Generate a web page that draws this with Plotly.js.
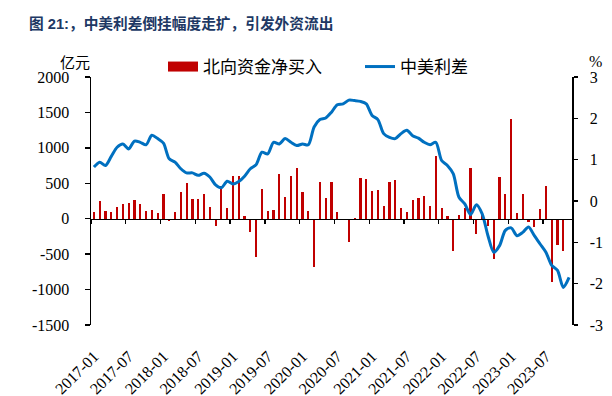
<!DOCTYPE html>
<html>
<head>
<meta charset="utf-8">
<script src="https://cdn.plot.ly/plotly-3.0.1.min.js"></script>
<style>html,body{margin:0;padding:0;background:#fff;}#chart{width:612px;height:396px;}</style>
</head>
<body>
<div id="chart"></div>
<script>
// Monthly categories 2017-01 .. 2023-11
const months = [
"2017-01","2017-02","2017-03","2017-04","2017-05","2017-06","2017-07","2017-08","2017-09","2017-10","2017-11","2017-12",
"2018-01","2018-02","2018-03","2018-04","2018-05","2018-06","2018-07","2018-08","2018-09","2018-10","2018-11","2018-12",
"2019-01","2019-02","2019-03","2019-04","2019-05","2019-06","2019-07","2019-08","2019-09","2019-10","2019-11","2019-12",
"2020-01","2020-02","2020-03","2020-04","2020-05","2020-06","2020-07","2020-08","2020-09","2020-10","2020-11","2020-12",
"2021-01","2021-02","2021-03","2021-04","2021-05","2021-06","2021-07","2021-08","2021-09","2021-10","2021-11","2021-12",
"2022-01","2022-02","2022-03","2022-04","2022-05","2022-06","2022-07","2022-08","2022-09","2022-10","2022-11","2022-12",
"2023-01","2023-02","2023-03","2023-04","2023-05","2023-06","2023-07","2023-08","2023-09","2023-10","2023-11"
];

// 北向资金净买入 (亿元)
const northbound = [
 90, 250, 104, 94, 170, 212, 221, 264, 202, 108, 122, 80,
 344, -28, 90, 377, 504, 278, 278, 348, 170, -108, 466, 150,
 598, 598, 38, -184, -541, 419, 113, 122, 636, 311, 598, 720,
 377, 108, -683, 523, 297, 518, 99, -24, -330, 5, 570, 560,
 391, 405, 179, 518, 546, 146, 99, 264, 297, 325, 179, 880,
 155, 33, -452, 56, 155, 720, -212, 90, -104, -565, 593, 344,
 1403, 85, 344, -52, -122, 132, 466, -899, -377, -452, -20
];

// 中美利差 (%)
const spread = [
 0.82, 0.94, 0.86, 1.08, 1.30, 1.38, 1.26, 1.45, 1.42, 1.36, 1.59, 1.51,
 1.40, 1.02, 0.94, 0.78, 0.68, 0.68, 0.62, 0.67, 0.58, 0.39, 0.32, 0.48,
 0.41, 0.47, 0.60, 0.78, 0.88, 1.18, 1.14, 1.42, 1.38, 1.51, 1.42, 1.34,
 1.38, 1.36, 1.79, 1.97, 2.01, 2.15, 2.33, 2.35, 2.44, 2.43, 2.41, 2.35,
 2.07, 1.97, 1.63, 1.54, 1.51, 1.63, 1.71, 1.58, 1.52, 1.42, 1.36, 1.42,
 0.98, 0.86, 0.66, 0.09, -0.07, -0.33, -0.09, -0.31, -0.84, -1.24, -1.08, -0.71,
 -0.65, -0.84, -0.76, -0.63, -0.84, -1.04, -1.24, -1.56, -1.68, -2.09, -1.85
];

// Tick labels on the category axis (every 6 months)
const tickLabels = ["2017-01","2017-07","2018-01","2018-07","2019-01","2019-07","2020-01",
                    "2020-07","2021-01","2021-07","2022-01","2022-07","2023-01","2023-07"];
// Category-boundary tick positions (between months) on the zero line
const boundaryTicks = [-0.5, 5.5, 11.5, 17.5, 23.5, 29.5, 35.5, 41.5, 47.5, 53.5, 59.5, 65.5, 71.5, 77.5];

const leftTicks = [-1500, -1000, -500, 0, 500, 1000, 1500, 2000];
const leftTickText = ["-1500", "-1000", "-500", "0", "500", "1000", "1500", "2000"];
const rightTicks = [-3, -2, -1, 0, 1, 2, 3];
const rightTickText = ["-3", "-2", "-1", "0", "1", "2", "3"];

const RED = "#C00000";
const BLUE = "#0070C0";
const serif = "Liberation Serif";
const cjk = "Noto Sans CJK SC";

const traces = [
  {
    type: "bar", x: months, y: northbound, name: "北向资金净买入",
    marker: {color: RED}, width: 0.38, showlegend: false, hoverinfo: "x+y"
  },
  { // legend swatch for the bars (wide red block)
    type: "scatter", mode: "lines", x: [null], y: [null], name: "北向资金净买入",
    line: {color: RED, width: 10}, showlegend: true, hoverinfo: "skip"
  },
  {
    type: "scatter", mode: "lines", x: months, y: spread, name: "中美利差",
    yaxis: "y2", line: {color: BLUE, width: 3, shape: "spline", smoothing: 0.8}
  },
  { // anchor trace for the zero-line tick axis
    type: "scatter", mode: "lines", x: [null], y: [null], xaxis: "x2", yaxis: "y",
    showlegend: false, hoverinfo: "skip"
  }
];

const layout = {
  width: 612, height: 396,
  paper_bgcolor: "#fff", plot_bgcolor: "#fff",
  font: {family: serif, size: 16, color: "#000"},
  margin: {l: 91, r: 40, t: 77, b: 71, pad: 0},
  showlegend: true,
  title: {
    text: "<b>图 21:，中美利差倒挂幅度走扩，引发外资流出</b>",
    font: {family: "Liberation Sans, Noto Sans CJK SC", size: 14.7, color: "#203864"},
    x: 29/612, xref: "container", xanchor: "left",
    y: 1 - 24/396, yref: "container", yanchor: "middle"
  },
  bargap: 0,
  xaxis: {
    type: "category", range: [-0.5, 82.5],
    tickmode: "array", tickvals: tickLabels, ticktext: tickLabels,
    tickangle: -45, ticks: "", showline: false, showgrid: false, zeroline: false,
    tickfont: {family: serif, size: 16, color: "#000"},
    ticklabelstandoff: 18
  },
  xaxis2: {
    overlaying: "x", anchor: "free", position: 1500/3500, type: "linear",
    range: [-0.5, 82.5], tickmode: "array", tickvals: boundaryTicks,
    ticks: "outside", ticklen: 4, tickwidth: 1.3, tickcolor: "#000",
    showline: true, linecolor: "#000", linewidth: 1.5,
    showticklabels: false, showgrid: false, zeroline: false
  },
  yaxis: {
    range: [-1500, 2000], tickmode: "array", tickvals: leftTicks, ticktext: leftTickText,
    ticks: "outside", ticklen: 5, tickwidth: 1.3, tickcolor: "#000",
    showline: true, linecolor: "#000", linewidth: 1.5,
    showgrid: false, zeroline: false,
    tickfont: {family: serif, size: 16, color: "#000"},
    ticklabelstandoff: 12
  },
  yaxis2: {
    overlaying: "y", side: "right", range: [-3, 3], tickmode: "array", tickvals: rightTicks, ticktext: rightTickText,
    ticks: "outside", ticklen: 4, tickwidth: 1.3, tickcolor: "#000",
    showline: true, linecolor: "#000", linewidth: 1.5,
    showgrid: false, zeroline: false,
    tickfont: {family: serif, size: 16, color: "#000"},
    ticklabelstandoff: 9
  },
  legend: {
    orientation: "h", x: (163 - 91) / 481, xanchor: "left",
    y: 1 + (77 - 67) / 248, yanchor: "middle",
    font: {family: cjk, size: 17, color: "#000"},
    entrywidth: 152, borderwidth: 0, bgcolor: "rgba(0,0,0,0)",
    traceorder: "normal"
  },
  annotations: [
    {text: "亿元", xref: "paper", yref: "paper", x: (75 - 91) / 481, y: 1 + (77 - 61) / 248,
     xanchor: "center", yanchor: "middle", showarrow: false,
     font: {family: cjk, size: 15, color: "#000"}},
    {text: "%", xref: "paper", yref: "paper", x: (595 - 91) / 481, y: 1 + (77 - 61) / 248,
     xanchor: "center", yanchor: "middle", showarrow: false,
     font: {family: serif, size: 16, color: "#000"}}
  ]
};

Plotly.newPlot("chart", traces, layout, {displayModeBar: false, staticPlot: true});
</script>
</body>
</html>
